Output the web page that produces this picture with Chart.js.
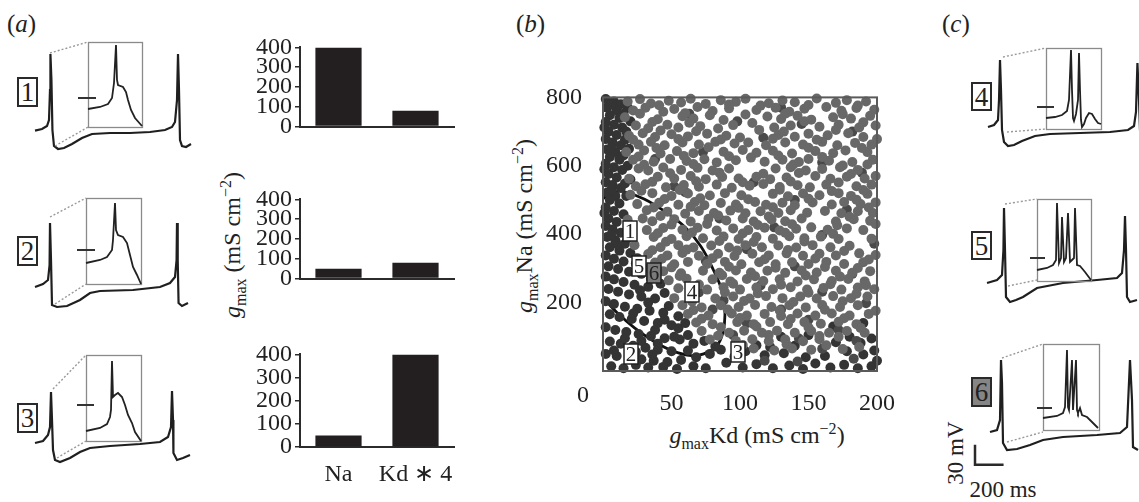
<!DOCTYPE html>
<html>
<head>
<meta charset="utf-8">
<script src="https://cdn.jsdelivr.net/npm/chart.js@4.4.0/dist/chart.umd.min.js"></script>
<style>
  body { margin: 0; width: 1139px; height: 502px; overflow: hidden; background: #fff; position: relative;
         font-family: "Liberation Serif", "Times New Roman", serif; color: #222; }
  .t { position: absolute; white-space: nowrap; font-size: 24px; line-height: 1; }
  .mid { transform: translate(-50%, -50%); }
  .rot { transform: translate(-50%, -50%) rotate(-90deg); }
  .t sub, .t sup { font-size: 16px; line-height: 0; }
  .box { position: absolute; box-sizing: border-box; border: 2px solid #2a2a2a; background: #fff;
         font-size: 27px; text-align: center; line-height: 27px; }
</style>
</head>
<body>

<div class="t" style="left:7px;top:11px;font-size:25px">(<i>a</i>)</div>
<div class="t" style="left:516px;top:11px;font-size:25px">(<i>b</i>)</div>
<div class="t" style="left:942px;top:11px;font-size:25px">(<i>c</i>)</div>

<div class="box" style="left:17px;top:77px;width:21px;height:30px">1</div>
<div class="box" style="left:17px;top:236px;width:21px;height:30px">2</div>
<div class="box" style="left:17px;top:403px;width:21px;height:30px">3</div>
<div class="box" style="left:971px;top:82px;width:21px;height:29px">4</div>
<div class="box" style="left:971px;top:231px;width:21px;height:29px">5</div>
<div class="box" style="left:971px;top:377px;width:21px;height:30px;background:#858585">6</div>

<div class="t rot" style="left:232px;top:245px"><i>g</i><sub>max</sub> (mS cm<sup>−2</sup>)</div>
<div class="t rot" style="left:524px;top:226px"><i>g</i><sub>max</sub>Na (mS cm<sup>−2</sup>)</div>
<div class="t mid" style="left:757px;top:435px"><i>g</i><sub>max</sub>Kd (mS cm<sup>−2</sup>)</div>
<div class="t rot" style="left:955px;top:453px;font-size:23px">30 mV</div>
<div class="t mid" style="left:1003px;top:489px;font-size:23px">200 ms</div>

<script>
// ---- (a) bar charts: g_max per channel ----
const barCats = ['Na', 'Kd \u2217 4'];
const bars1 = [400, 80];
const bars2 = [50, 80];
const bars3 = [50, 400];
const gTicks = [0, 100, 200, 300, 400];

// ---- voltage traces (t in ms, V in mV); insets are time-expanded ----
const trace1 = [[35,-70],[84,-67.5],[119,-63],[133,-54],[140,-9],[143,45],[150,6],[157,-69],[168,-93],[196,-97.5],[238,-96],[294,-90],[364,-81],[434,-75],[560,-73.5],[700,-73.5],[840,-72],[945,-69],[994,-64.5],[1015,-57],[1029,-24],[1036,45],[1043,-9],[1050,-84],[1064,-93],[1092,-94.5],[1127,-90]];
const inset1 = [[0,-37.5],[12,-34.5],[20,-30],[24,-21],[26,1.5],[28,58.5],[29,6],[30,-1.5],[35,-4.5],[38,-12],[40,-24],[43,-39],[47,-51],[54,-63]];
const mark1 = [[-10,-21],[8,-21]];
const win1 = [0, 54, -64.5, 63];
const link1 = [[[140,46.5],[406,63]], [[175,-93],[406,-64.5]]];

const trace2 = [[35,-51],[91,-46.5],[126,-40.5],[137,-18],[140,45],[147,-10.5],[154,-78],[189,-81],[259,-79.5],[350,-70.5],[420,-60],[490,-57],[721,-55.5],[910,-51],[980,-45],[1015,-36],[1026,-10.5],[1029,45],[1034,-10.5],[1040,-75],[1064,-79.5],[1106,-75]];
const inset2 = [[0,-15],[14,-10.5],[21,-6],[26,4.5],[27,19.5],[29,75],[30,34.5],[32,27],[37,24],[41,15],[44,-3],[47,-21],[51,-33],[55,-46.5]];
const mark2 = [[-9,4.5],[9,4.5]];
const win2 = [0, 55, -46.5, 82.5];
const link2 = [[[140,54],[392,82.5]], [[175,-76.5],[392,-46.5]]];

const trace3 = [[35,-31.5],[91,-28.5],[126,-19.5],[140,-7.5],[147,45],[154,3],[161,-42],[175,-57],[210,-60],[280,-54],[350,-45],[420,-39],[560,-36],[770,-33],[910,-30],[966,-22.5],[987,-7.5],[994,46.5],[1001,3],[1004,-46.5],[1029,-57],[1071,-54],[1120,-49.5]];
const inset3 = [[0,-13.5],[14,-9],[21,-3],[24,7.5],[25,18],[26,91.5],[27,37.5],[29,40.5],[32,43.5],[36,37.5],[39,25.5],[42,10.5],[46,-1.5],[49,-15],[55,-28.5]];
const mark3 = [[-9,25.5],[8,25.5]];
const win3 = [0, 55, -28.5, 100.5];
const link3 = [[[161,49.5],[392,100.5]], [[189,-54],[392,-28.5]]];

const trace4 = [[196,-55.5],[238,-52.5],[266,-45],[273,-15],[280,45],[287,0],[294,-60],[308,-78],[336,-84],[378,-82.5],[434,-76.5],[525,-69],[630,-66],[840,-64.5],[1050,-63],[1176,-60],[1218,-54],[1232,-33],[1242,40.5],[1253,-15],[1260,-60],[1275,-70]];
const inset4 = [[0,-42],[9,-40.5],[16,-37.5],[21,-31.5],[23,-15],[25,60],[26,0],[27,-42],[28,-46.5],[30,-36],[32,-15],[33,55.5],[34,0],[35,-45],[36,-55.5],[38,-51],[40,-42],[43,-34.5],[46,-36],[49,-43.5],[52,-49.5],[55,-51]];
const mark4 = [[-9,-25.5],[8,-25.5]];
const win4 = [0, 55, -58.5, 63];
const link4 = [[[301,49.5],[602,63]], [[329,-63],[602,-58.5]]];

const trace5 = [[189,-67.5],[259,-63],[294,-55.5],[304,-18],[308,45],[315,-18],[322,-88.5],[350,-96],[392,-93],[441,-88.5],[539,-75],[721,-67.5],[959,-63],[1099,-60],[1134,-52.5],[1148,-18],[1155,33],[1162,-18],[1169,-88.5],[1190,-96],[1239,-93]];
const inset5 = [[0,-48],[10,-45],[16,-40.5],[19,-33],[20,52.5],[22,-37.5],[24,-30],[25,31.5],[27,-36],[29,-30],[31,37.5],[33,-36],[35,-33],[37,-30],[38,45],[40,-40.5],[43,-42],[48,-51],[54,-63]];
const mark5 = [[-7,-30],[8,-30]];
const win5 = [0, 54, -64.5, 58.5];
const link5 = [[[315,51],[539,58.5]], [[336,-72],[539,-63]]];

const trace6 = [[210,-63],[259,-60],[280,-45],[287,45],[294,10.5],[301,-79.5],[329,-90],[399,-88.5],[490,-82.5],[581,-75],[721,-70.5],[959,-67.5],[1120,-64.5],[1169,-55.5],[1190,45],[1204,-15],[1211,-85.5],[1246,-90]];
const inset6 = [[0,-42],[14,-39],[20,-34.5],[22,-25.5],[24,60],[25,-25.5],[26,-30],[29,45],[30,-30],[33,45],[34,-30],[35,-34.5],[37,-27],[39,-37.5],[44,-40.5],[49,-48],[55,-57]];
const mark6 = [[-6,-27],[9,-27]];
const win6 = [0, 56, -60, 69];
const link6 = [[[294,48],[581,69]], [[329,-78],[581,-63]]];
const scaleBar = [[105,-82],[105,-112],[305,-112]]; // 30 mV / 200 ms

// ---- (b) parameter space: g_max Kd vs g_max Na ----
const grayPts = [
[18,788],[27,795],[35,782],[48,790],[57,785],[64,796],[75,781],[86,792],[97,787],[104,796],[121,783],[131,791],[140,786],[156,797],[170,784],[178,792],[192,788],
[22,762],[31,770],[44,758],[52,766],[69,772],[80,760],[92,768],[112,763],[126,770],[136,758],[147,767],[163,772],[174,761],[185,769],[198,764],
[16,742],[40,736],[58,745],[66,738],[78,748],[88,734],[120,744],[130,737],[142,746],[152,735],[168,742],[181,738],[195,746],
[24,718],[33,710],[47,720],[55,712],[71,716],[84,709],[95,719],[125,712],[137,718],[158,714],[172,720],[187,712],[199,718],
[19,688],[29,695],[38,684],[50,692],[62,686],[76,694],[90,688],[100,683],[128,690],[140,685],[150,694],[164,689],[179,695],[190,684],
[26,662],[35,670],[45,660],[58,668],[70,662],[82,670],[96,665],[119,660],[133,668],[146,662],[160,670],[171,660],[184,667],[196,662],
[17,640],[30,645],[42,636],[54,643],[66,637],[88,641],[102,646],[112,638],[124,644],[138,636],[155,643],[168,637],[177,645],[193,640],
[22,618],[37,612],[49,620],[61,614],[74,619],[83,610],[97,616],[118,612],[131,618],[143,611],[150,620],[165,615],[182,611],[197,618],
[26,592],[33,586],[44,595],[57,588],[69,594],[80,586],[92,592],[126,592],[137,596],[148,586],[160,591],[173,596],[186,588],
[19,562],[40,568],[52,563],[64,570],[75,561],[87,567],[99,563],[112,568],[122,561],[134,566],[155,570],[166,562],[178,568],[191,563],[199,570],
[24,540],[31,546],[46,537],[59,544],[70,539],[83,545],[94,536],[107,542],[117,547],[129,538],[142,543],[151,537],[163,545],[185,540],[196,545],
[20,515],[36,520],[50,512],[62,519],[78,513],[89,520],[101,514],[124,518],[135,511],[146,519],[158,514],[172,520],[181,512],[193,518],
[25,488],[41,492],[55,486],[67,494],[74,485],[86,491],[97,487],[111,494],[119,486],[131,492],[140,485],[153,493],[167,487],[176,494],[188,488],[199,493],
[32,470],[47,466],[60,460],[70,468],[81,462],[93,469],[104,461],[115,467],[128,462],[137,470],[149,463],[162,468],[174,461],[186,467],[197,462],
[18,442],[29,446],[36,438],[52,444],[64,437],[77,445],[90,440],[102,446],[110,437],[123,443],[133,438],[145,446],[170,437],[183,444],[195,439],
[32,412],[44,418],[58,413],[69,419],[83,411],[95,417],[106,412],[118,419],[129,411],[141,416],[152,420],[164,413],[178,417],[190,412],
[37,392],[50,386],[61,394],[73,388],[88,393],[99,386],[112,392],[124,387],[136,394],[147,388],[159,393],[172,386],[196,387],
[23,368],[42,362],[55,368],[66,361],[79,367],[92,361],[104,368],[116,362],[128,367],[141,361],[153,368],[166,362],[180,366],
[33,342],[47,338],[58,345],[70,337],[84,343],[96,336],[109,343],[121,338],[134,344],[146,337],[158,343],[170,338],[187,344],[199,339],
[38,317],[52,312],[62,319],[76,313],[89,319],[101,312],[114,318],[126,312],[138,318],[150,313],[163,319],[176,313],[190,318],
[44,292],[57,286],[73,293],[85,287],[97,294],[108,288],[120,293],[133,287],[145,294],[156,288],[170,293],[182,287],[195,292],
[48,265],[61,270],[80,268],[93,262],[105,269],[117,263],[129,268],[142,262],[154,268],[167,263],[179,269],[191,262],
[55,242],[76,238],[88,245],[100,238],[112,244],[124,239],[137,245],[149,238],[161,243],[174,238],[186,244],[198,239],
[52,213],[82,212],[95,218],[107,212],[119,219],[131,213],[144,218],[156,212],[168,219],[181,213],[193,218],
[58,192],[72,186],[86,192],[99,187],[111,193],[123,187],[136,192],[148,186],[160,193],[173,187],[186,192],
[62,167],[77,162],[94,168],[105,162],[118,167],[130,161],[142,168],[155,162],[167,168],[180,162],[194,167],
[68,142],[80,137],[98,143],[110,137],[122,143],[135,137],[147,143],[159,138],[172,144],[185,137],
[72,117],[92,112],[103,118],[116,112],[127,118],[140,112],[152,117],[165,112],[178,117],[191,112],
[78,92],[97,88],[109,93],[121,87],[133,92],[146,87],[158,93],
[110,66],[125,60],[138,66],[152,62],[175,64],
// in-between dots, irregular
[41,777],[92,779],[115,776],[150,778],[186,776],
[27,752],[60,754],[104,750],[133,752],[175,751],
[36,728],[63,726],[147,730],[190,727],[109,725],
[42,703],[68,701],[132,700],[170,705],[114,705],
[22,676],[55,678],[86,677],[124,679],[156,676],[200,678],[106,668],
[39,652],[77,654],[150,653],[189,652],
[26,627],[59,629],[92,628],[128,630],[160,626],[108,624],
[30,603],[66,605],[139,604],[175,601],[193,604],
[49,578],[85,580],[117,577],[143,579],[181,576],
[36,553],[68,555],[102,552],[137,554],[172,551],
[28,527],[56,529],[129,530],[167,526],[190,529],
[45,503],[71,505],[106,502],[150,504],[185,501],
[37,478],[64,480],[99,477],[124,479],[194,478],
[42,453],[84,455],[121,452],[180,451],
[50,428],[76,430],[113,427],[138,429],[171,426],[199,430],
[40,403],[65,405],[102,402],[133,404],[168,401],
[46,378],[85,380],[110,377],[147,379],
[36,353],[61,355],[98,352],[135,354],[176,351],
[43,328],[80,330],[118,327],[155,329],[194,326],
[50,303],[92,305],[126,302],[162,304],[186,301],
[56,278],[87,280],[111,277],[148,279],[173,276],
[70,253],[95,255],[130,252],[166,254],[192,251],
[89,230],[113,227],[150,229],[185,226],
[65,203],[103,205],[139,202],[175,204],
[66,178],[91,180],[129,177],[162,179],[199,176],
[72,153],[100,155],[137,152],[176,154],
[86,128],[112,130],[150,127],[188,126],
[84,103],[121,105],[158,102],[172,100],
[102,76],[134,78],[163,75],[187,70]
];
const midPts = [
[63,752],[98,730],[145,722],[182,700],[117,682],[73,640],[160,610],[189,580],[110,552],[60,523],
[140,500],[178,472],[85,446],[125,420],[160,398],[198,372],[105,356],[75,322],[140,306],[182,284],
[115,250],[160,232],[88,206],[130,180],[192,198],[105,140],[150,150],[172,120],[95,105],[143,95],
[185,88],[160,65],[118,30],[142,28],[183,36],[70,230],[80,180],[52,540],[38,620],[130,770]
];
const darkPts = [
[2,795],[8,788],[13,780],[18,770],[3,770],[10,762],[5,748],[12,740],[20,730],[2,728],[8,720],[14,712],[4,700],[10,690],[17,700],
[2,678],[7,668],[13,660],[19,650],[3,648],[9,640],[5,626],[12,618],[2,606],[8,596],[18,600],[14,588],[4,576],[10,566],[20,560],
[2,552],[7,544],[13,535],[3,522],[9,512],[5,500],[12,490],[2,478],[8,468],[15,458],[4,446],[10,436],[2,424],[7,414],[13,404],
[3,392],[9,382],[16,372],[5,362],[12,352],[20,345],[2,338],[8,328],[15,320],[24,314],[4,306],[11,298],[19,290],[28,284],
[2,276],[8,268],[15,260],[23,252],[33,246],[4,240],[11,232],[19,224],[28,218],[38,212],[2,204],[8,196],[16,188],[25,182],
[34,176],[44,170],[5,166],[12,158],[21,152],[30,146],[40,140],[50,134],[2,128],[9,120],[17,114],[26,108],[35,102],[45,96],
[56,92],[5,86],[13,80],[22,74],[31,68],[40,62],[50,58],[62,60],[2,50],[10,44],[19,40],[28,34],[37,30],[47,26],[57,32],
[68,40],[78,50],[86,62],[6,14],[15,8],[24,18],[33,10],[44,12],[54,6],[66,14],[75,8],[90,24],[102,10],[112,20],[124,8],
[136,16],[146,6],[155,22],[166,10],[176,18],[186,8],[196,14],[200,30],[190,48],[178,58],[162,44],[148,40],[132,52],[118,46],
[104,58],[96,42],[170,84],[188,82],[198,60],[140,74],[122,70],
[45,150],[55,125],[62,105],[74,88],[82,72],[66,80],[52,100],[150,105],[168,130],[190,140],[196,95],[180,100],[130,100],[112,75],
[6,780],[15,752],[1,712],[16,676],[6,652],[15,630],[1,590],[16,548],[6,530],[17,512],[1,462],[6,398],[18,388],[10,372],
[25,330],[30,300],[35,270],[42,255],[27,236],[45,228],[33,200],[48,190],[22,168],[55,160],[38,120],[60,140],[16,96],[28,88],
[40,80],[8,60],[24,56],[36,48]
];
const ellipse = [[-8,440],[0,503],[9,523],[14,526],[30,503],[46,464],[60,420],[71.5,364],[80.5,296],[87,232],[89,168],[87.5,112],[83,73],[73.5,50],[64.5,45],[50.7,59],[37,87],[23,126],[11,168],[0.7,213],[-8,270]];
const tagNames = ['1', '2', '3', '4', '5', '6'];
const tagPts = [[20,408],[20.8,50],[98.6,56],[64.6,232],[26.4,308],[37.5,288]];

// ---- helpers ----
const serif = '"Liberation Serif", "Times New Roman", serif';
Chart.defaults.font.family = serif;
Chart.defaults.color = '#222';

const quiet = {
  responsive: false,
  animation: false,
  events: [],
  plugins: { legend: { display: false }, tooltip: { enabled: false } }
};

function mk(left, top, w, h) {
  const cv = document.createElement('canvas');
  cv.width = w;
  cv.height = h;
  cv.style.cssText = `position:absolute;left:${left}px;top:${top}px`;
  document.body.appendChild(cv);
  return cv;
}

const xy = a => a.map(p => ({ x: p[0], y: p[1] }));

function line(pts, w, color, dash) {
  return {
    data: xy(pts), showLine: true, borderColor: color, borderWidth: w,
    borderDash: dash || [], pointRadius: 0, tension: 0, clip: false
  };
}

// inset frame, win = [t0, t1, vLow, vHigh]
function frame(win) {
  return {
    id: 'frame',
    beforeDatasetsDraw(chart) {
      const { ctx, scales: { x, y } } = chart;
      const l = x.getPixelForValue(win[0]), r = x.getPixelForValue(win[1]);
      const t = y.getPixelForValue(win[3]), b = y.getPixelForValue(win[2]);
      ctx.save();
      ctx.strokeStyle = '#8a8a8a';
      ctx.lineWidth = 1.3;
      ctx.strokeRect(Math.round(l) + 0.5, Math.round(t) + 0.5, Math.round(r - l), Math.round(b - t));
      ctx.restore();
    }
  };
}

// main trace cell: 7 ms per px, 1.5 mV per px, V = 60 mV sits at "top"
function traceChart(left, top, xMax, sets) {
  const cv = mk(left, top - 30, Math.round(xMax / 7), 150);
  new Chart(cv, {
    type: 'scatter',
    data: { datasets: sets },
    options: {
      ...quiet,
      layout: { padding: 0 },
      scales: {
        x: { display: false, min: 0, max: xMax },
        y: { display: false, min: -120, max: 105 }
      }
    }
  });
}

function insetChart(boxLeft, top, win, trace, mark) {
  const x0 = -12, x1 = win[1] + 2;
  const cv = mk(boxLeft + x0, top - 30, x1 - x0, 150);
  new Chart(cv, {
    type: 'scatter',
    data: { datasets: [line(mark, 2, '#333'), line(trace, 1.8, '#222')] },
    options: {
      ...quiet,
      layout: { padding: 0 },
      scales: {
        x: { display: false, min: x0, max: x1 },
        y: { display: false, min: -120, max: 105 }
      }
    },
    plugins: [frame(win)]
  });
}

function cell(left, top, xMax, trace, link, inset, boxLeft, win, mark, extra) {
  const sets = [
    line(link[0], 1.4, '#9a9a9a', [2, 2]),
    line(link[1], 1.4, '#9a9a9a', [2, 2]),
    line(trace, 2.2, '#1f1f1f')
  ];
  if (extra) sets.push(extra);
  traceChart(left, top, xMax, sets);
  insetChart(boxLeft, top, win, inset, mark);
}

// ---- (a) traces ----
cell(30, 44, 1190, trace1, link1, inset1, 88, win1, mark1);
cell(30, 213, 1190, trace2, link2, inset2, 86, win2, mark2);
cell(30, 382, 1190, trace3, link3, inset3, 86, win3, mark3);

// ---- (c) traces ----
cell(960, 50, 1295, trace4, link4, inset4, 1046, win4, mark4);
cell(960, 198, 1295, trace5, link5, inset5, 1037, win5, mark5);
cell(960, 350, 1295, trace6, link6, inset6, 1043, win6, mark6, line(scaleBar, 2.5, '#2a2a2a'));

// ---- (a) bar charts ----
function barChart(top, h, vals, xh, showNames) {
  const cv = mk(220, top, 240, h);
  new Chart(cv, {
    type: 'bar',
    data: {
      labels: barCats,
      datasets: [{ data: vals, backgroundColor: '#231f20', barPercentage: 0.6, categoryPercentage: 1 }]
    },
    options: {
      ...quiet,
      layout: { padding: { top: 13, right: 6, left: 0, bottom: 0 } },
      scales: {
        x: {
          grid: { display: false },
          border: { color: '#2b2b2b', width: 2 },
          ticks: { display: showNames, font: { size: 24 }, padding: 5, color: '#222', autoSkip: false, maxRotation: 0, minRotation: 0 },
          afterFit: s => { s.height = xh; }
        },
        y: {
          min: 0, max: 400,
          afterBuildTicks: s => { s.ticks = gTicks.map(v => ({ value: v })); },
          grid: { drawOnChartArea: false, tickLength: 5, color: '#2b2b2b', lineWidth: 1.5 },
          border: { color: '#2b2b2b', width: 2 },
          ticks: { font: { size: 24 }, padding: 3, color: '#222', autoSkip: false },
          afterFit: s => { s.width = 80; }
        }
      }
    }
  });
}
barChart(30, 114, bars1, 4, false);
barChart(182, 114, bars2, 4, false);
barChart(337, 155, bars3, 45, true);

// ---- (b) scatter ----
const plotFrame = {
  id: 'plotFrame',
  afterDatasetsDraw(chart) {
    const { ctx, chartArea: a } = chart;
    ctx.save();
    ctx.strokeStyle = '#5a5a5a';
    ctx.lineWidth = 2;
    ctx.strokeRect(a.left, a.top, a.right - a.left, a.bottom - a.top);
    ctx.fillStyle = '#222';
    ctx.font = '24px ' + serif;
    ctx.textAlign = 'center';
    ctx.textBaseline = 'middle';
    ctx.fillText('0', a.left - 20, a.bottom + 25);
    ctx.restore();
  }
};

const cellTags = {
  id: 'cellTags',
  afterDatasetsDraw(chart) {
    const { ctx, scales: { x, y } } = chart;
    ctx.save();
    ctx.font = '21px ' + serif;
    ctx.textAlign = 'center';
    ctx.textBaseline = 'middle';
    ctx.lineWidth = 1.5;
    ctx.strokeStyle = '#222';
    tagPts.forEach((p, i) => {
      const px = Math.round(x.getPixelForValue(p[0])), py = Math.round(y.getPixelForValue(p[1]));
      ctx.fillStyle = tagNames[i] === '6' ? '#7a7a7a' : '#fff';
      ctx.fillRect(px - 7, py - 10, 14, 20);
      ctx.strokeRect(px - 7, py - 10, 14, 20);
      ctx.fillStyle = '#222';
      ctx.fillText(tagNames[i], px, py + 1);
    });
    ctx.restore();
  }
};

const sc = mk(540, 70, 365, 345);
new Chart(sc, {
  type: 'scatter',
  data: {
    datasets: [
      { data: xy(grayPts), backgroundColor: '#686868', pointRadius: 5, borderWidth: 0, clip: 6 },
      { data: xy(midPts), backgroundColor: '#4a4a4a', pointRadius: 5, borderWidth: 0, clip: 6 },
      { data: xy(darkPts), backgroundColor: '#343434', pointRadius: 5, borderWidth: 0, clip: 6 },
      { data: xy(ellipse), showLine: true, borderColor: '#111', borderWidth: 2.8, pointRadius: 0, tension: 0.4 }
    ]
  },
  options: {
    ...quiet,
    layout: { padding: { top: 15, right: 14, left: 0, bottom: 0 } },
    scales: {
      x: {
        min: 0, max: 200,
        grid: { display: false },
        border: { display: false },
        ticks: { stepSize: 50, font: { size: 24 }, padding: 10, maxRotation: 0, callback: v => (v === 0 ? '' : v) },
        afterFit: s => { s.height = 44; }
      },
      y: {
        min: 0, max: 800,
        grid: { display: false },
        border: { display: false },
        ticks: { stepSize: 200, font: { size: 24 }, padding: 13, callback: v => (v === 0 ? '' : v) },
        afterFit: s => { s.width = 63; }
      }
    }
  },
  plugins: [plotFrame, cellTags]
});
</script>
</body>
</html>
